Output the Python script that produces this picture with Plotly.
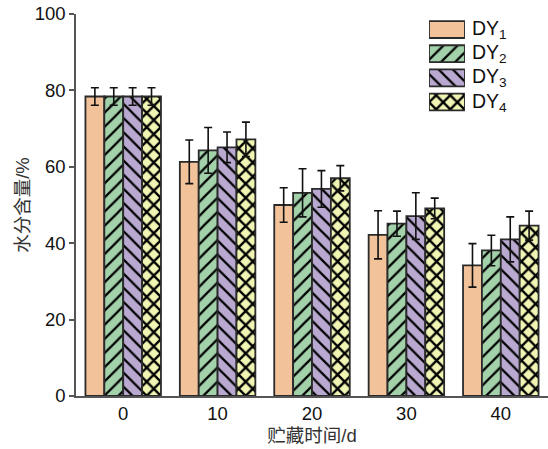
import plotly.graph_objects as go

days = ["0", "10", "20", "30", "40"]
series = ["DY1", "DY2", "DY3", "DY4"]
labels = ["DY<sub>1</sub>", "DY<sub>2</sub>", "DY<sub>3</sub>", "DY<sub>4</sub>"]
dy1 = [78.4, 61.3, 50.0, 42.2, 34.2]
dy2 = [78.4, 64.3, 53.2, 45.1, 38.1]
dy3 = [78.4, 65.1, 54.2, 47.1, 41.0]
dy4 = [78.4, 67.2, 57.0, 49.1, 44.6]
err1 = [2.3, 5.7, 4.5, 6.3, 5.7]
err2 = [2.3, 6.0, 6.3, 3.3, 4.0]
err3 = [2.3, 4.0, 4.8, 6.1, 5.9]
err4 = [2.3, 4.5, 3.3, 2.7, 3.8]

values = [dy1, dy2, dy3, dy4]
errors = [err1, err2, err3, err4]
colors = ["#F2C39A", "#A2D1AA", "#B9A9D1", "#F1F5B3"]
shapes = ["", "/", "\\", "x"]
solid = [0, 0.22, 0.22, 0.42]

FONT = "Liberation Sans, Arial, sans-serif"
CJK = "Liberation Sans, Noto Sans CJK SC, sans-serif"
EDGE = "#2a2a2a"


def make_marker(col, shp, sol):
    marker = dict(color=col, line=dict(color=EDGE, width=1.8))
    if shp:
        marker["pattern"] = dict(shape=shp, fgcolor="#000000", bgcolor=col,
                                 size=10, solidity=sol, fillmode="replace")
    return marker


fig = go.Figure()
for name, vals, errs, col, shp, sol in zip(series, values, errors, colors, shapes, solid):
    fig.add_trace(go.Bar(
        x=days, y=vals, name=name, marker=make_marker(col, shp, sol), showlegend=False,
        error_y=dict(type="data", array=errs, visible=True,
                     color="#111111", thickness=1.6, width=4),
    ))

# custom legend swatches (large patterned boxes like the reference)
leg_idx = list(range(len(series)))
for i, (col, shp, sol) in enumerate(zip(colors, shapes, solid)):
    fig.add_trace(go.Bar(
        x=[1], y=[leg_idx[i]], orientation="h", marker=make_marker(col, shp, sol), width=0.7,
        xaxis="x2", yaxis="y2", showlegend=False, hoverinfo="skip",
    ))
    fig.add_annotation(x=1, y=leg_idx[i], xref="x2", yref="y2", text=labels[i],
                       showarrow=False, xanchor="left", yanchor="middle",
                       xshift=5, font=dict(family=FONT, size=19.5, color="#111111"))

fig.update_layout(
    width=548, height=449,
    margin=dict(l=76, r=0, t=14, b=53),
    plot_bgcolor="white", paper_bgcolor="white",
    barmode="group", bargap=0.2, bargroupgap=0,
    font=dict(family=FONT, size=18.5, color="#111111"),
    xaxis=dict(
        range=[-0.5, 4.5], showline=True, linecolor="#555555", linewidth=1.5,
        ticks="", showgrid=False, zeroline=False,
        tickfont=dict(size=18.5),
        title=dict(text="贮藏时间/d", font=dict(family=CJK, size=18.5, color="#333333"), standoff=6),
    ),
    yaxis=dict(
        range=[0, 100], showline=True, linecolor="#555555", linewidth=1.5,
        ticks="outside", ticklen=5, tickwidth=1.5, tickcolor="#555555",
        tickvals=[0, 20, 40, 60, 80, 100], showgrid=False, zeroline=False,
        tickfont=dict(size=18.5),
        title=dict(text="水分含量/%", font=dict(family=CJK, size=18.5, color="#333333"), standoff=0),
    ),
    xaxis2=dict(domain=[0.748, 0.824], range=[0, 1], visible=False,
                anchor="y2", fixedrange=True),
    yaxis2=dict(domain=[0.738, 0.991], range=[3.5, -0.5], visible=False,
                anchor="x2", fixedrange=True),
)

fig.write_html("out.html")
